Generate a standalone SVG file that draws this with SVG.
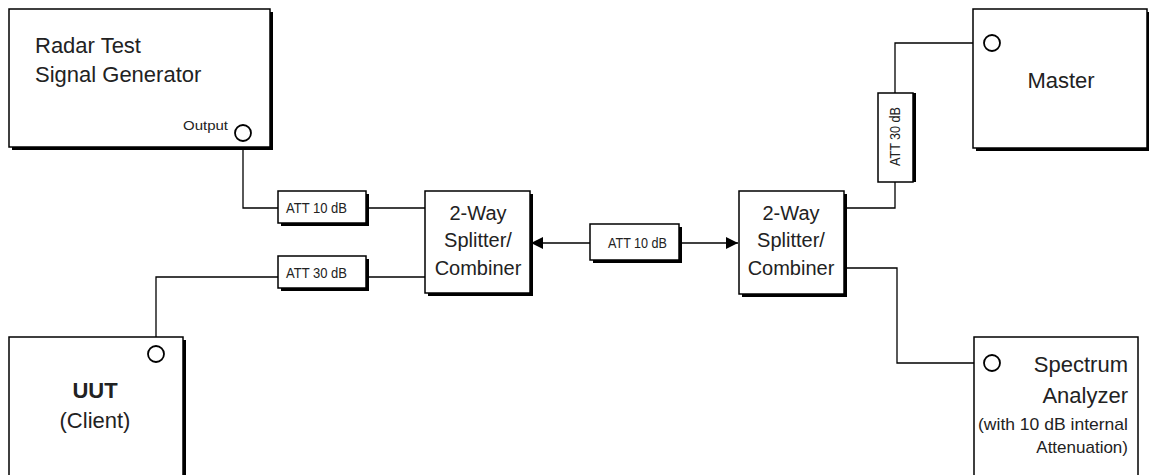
<svg xmlns="http://www.w3.org/2000/svg" width="1149" height="475" viewBox="0 0 1149 475">
<style>
.box{fill:#fff;stroke:#000;stroke-width:1.5}
.sh{fill:#000}
.ln{fill:none;stroke:#000;stroke-width:1.3}
.port{fill:#fff;stroke:#000;stroke-width:1.8}
text{font-family:"Liberation Sans",Arial,sans-serif;fill:#222}
.big{font-size:22px}
.mid{font-size:20px}
.att{font-size:14px}
</style>
<defs>
<marker id="ah" viewBox="0 0 12 12" refX="12" refY="6" markerWidth="12" markerHeight="12" markerUnits="userSpaceOnUse" orient="auto-start-reverse">
<path d="M0,0 L12,6 L0,12 Z" fill="#000"/>
</marker>
</defs>
<rect width="1149" height="475" fill="#fff"/>
<g id="connectors">
<path class="ln" d="M243,141 V208 H278"/>
<path class="ln" d="M366,208 H425"/>
<path class="ln" d="M156,346 V277 H278"/>
<path class="ln" d="M366,277 H425"/>
<path class="ln" d="M531,243 H738" marker-start="url(#ah)" marker-end="url(#ah)"/>
<path class="ln" d="M844,208 H895 V182"/>
<path class="ln" d="M895,93 V43 H984"/>
<path class="ln" d="M844,268 H897 V363 H984"/>
</g>
<g id="radar">
<rect class="sh" x="12" y="12" width="261" height="138"/>
<rect class="box" x="9" y="9" width="261" height="138"/>
<text class="big" x="35" y="53">Radar Test</text>
<text class="big" x="35" y="82">Signal Generator</text>
<text x="228" y="130" font-size="13" text-anchor="end" textLength="45" lengthAdjust="spacingAndGlyphs">Output</text>
<circle class="port" cx="243" cy="133" r="8"/>
</g>
<g id="att1">
<rect class="sh" x="281" y="194" width="88" height="32"/>
<rect class="box" x="278" y="191" width="88" height="32"/>
<text class="att" x="286" y="213" textLength="61" lengthAdjust="spacingAndGlyphs">ATT 10 dB</text>
</g>
<g id="att2">
<rect class="sh" x="281" y="259" width="88" height="32"/>
<rect class="box" x="278" y="256" width="88" height="32"/>
<text class="att" x="286" y="278" textLength="61" lengthAdjust="spacingAndGlyphs">ATT 30 dB</text>
</g>
<g id="splitter1">
<rect class="sh" x="428" y="194" width="105" height="102"/>
<rect class="box" x="425" y="191" width="105" height="102"/>
<text class="mid" x="478" y="220" text-anchor="middle">2-Way</text>
<text class="mid" x="478" y="247" text-anchor="middle">Splitter/</text>
<text class="mid" x="478" y="275" text-anchor="middle">Combiner</text>
</g>
<g id="att3">
<rect class="sh" x="593" y="227" width="89" height="36"/>
<rect class="box" x="590" y="224" width="89" height="36"/>
<text class="att" x="608" y="248" textLength="59" lengthAdjust="spacingAndGlyphs">ATT 10 dB</text>
</g>
<g id="splitter2">
<rect class="sh" x="742" y="194" width="105" height="103"/>
<rect class="box" x="739" y="191" width="105" height="103"/>
<text class="mid" x="791" y="220" text-anchor="middle">2-Way</text>
<text class="mid" x="791" y="247" text-anchor="middle">Splitter/</text>
<text class="mid" x="791" y="275" text-anchor="middle">Combiner</text>
</g>
<g id="att4">
<rect class="sh" x="881" y="93" width="35" height="89"/>
<rect class="box" x="878" y="93" width="35" height="89"/>
<text class="att" transform="translate(900,166) rotate(-90)" textLength="59" lengthAdjust="spacingAndGlyphs">ATT 30 dB</text>
</g>
<g id="master">
<rect class="sh" x="976" y="12" width="176" height="139"/>
<rect class="box" x="973" y="9" width="174" height="139"/>
<text class="big" x="1061" y="88" text-anchor="middle">Master</text>
<circle class="port" cx="992" cy="43" r="8"/>
</g>
<g id="uut">
<rect class="sh" x="12" y="340" width="174" height="140"/>
<rect class="box" x="9" y="337" width="174" height="140"/>
<text class="big" x="95" y="398" text-anchor="middle" font-weight="bold">UUT</text>
<text class="big" x="95" y="428" text-anchor="middle">(Client)</text>
<circle class="port" cx="156" cy="354" r="8"/>
</g>
<g id="spectrum">
<rect class="box" x="974" y="337" width="164" height="140"/>
<text class="big" x="1128" y="372" text-anchor="end">Spectrum</text>
<text class="big" x="1128" y="403" text-anchor="end">Analyzer</text>
<text x="1128" y="430" font-size="17" text-anchor="end" textLength="150" lengthAdjust="spacingAndGlyphs">(with 10 dB internal</text>
<text x="1128" y="453" font-size="17" text-anchor="end">Attenuation)</text>
<circle class="port" cx="992" cy="363" r="8"/>
</g>
</svg>
